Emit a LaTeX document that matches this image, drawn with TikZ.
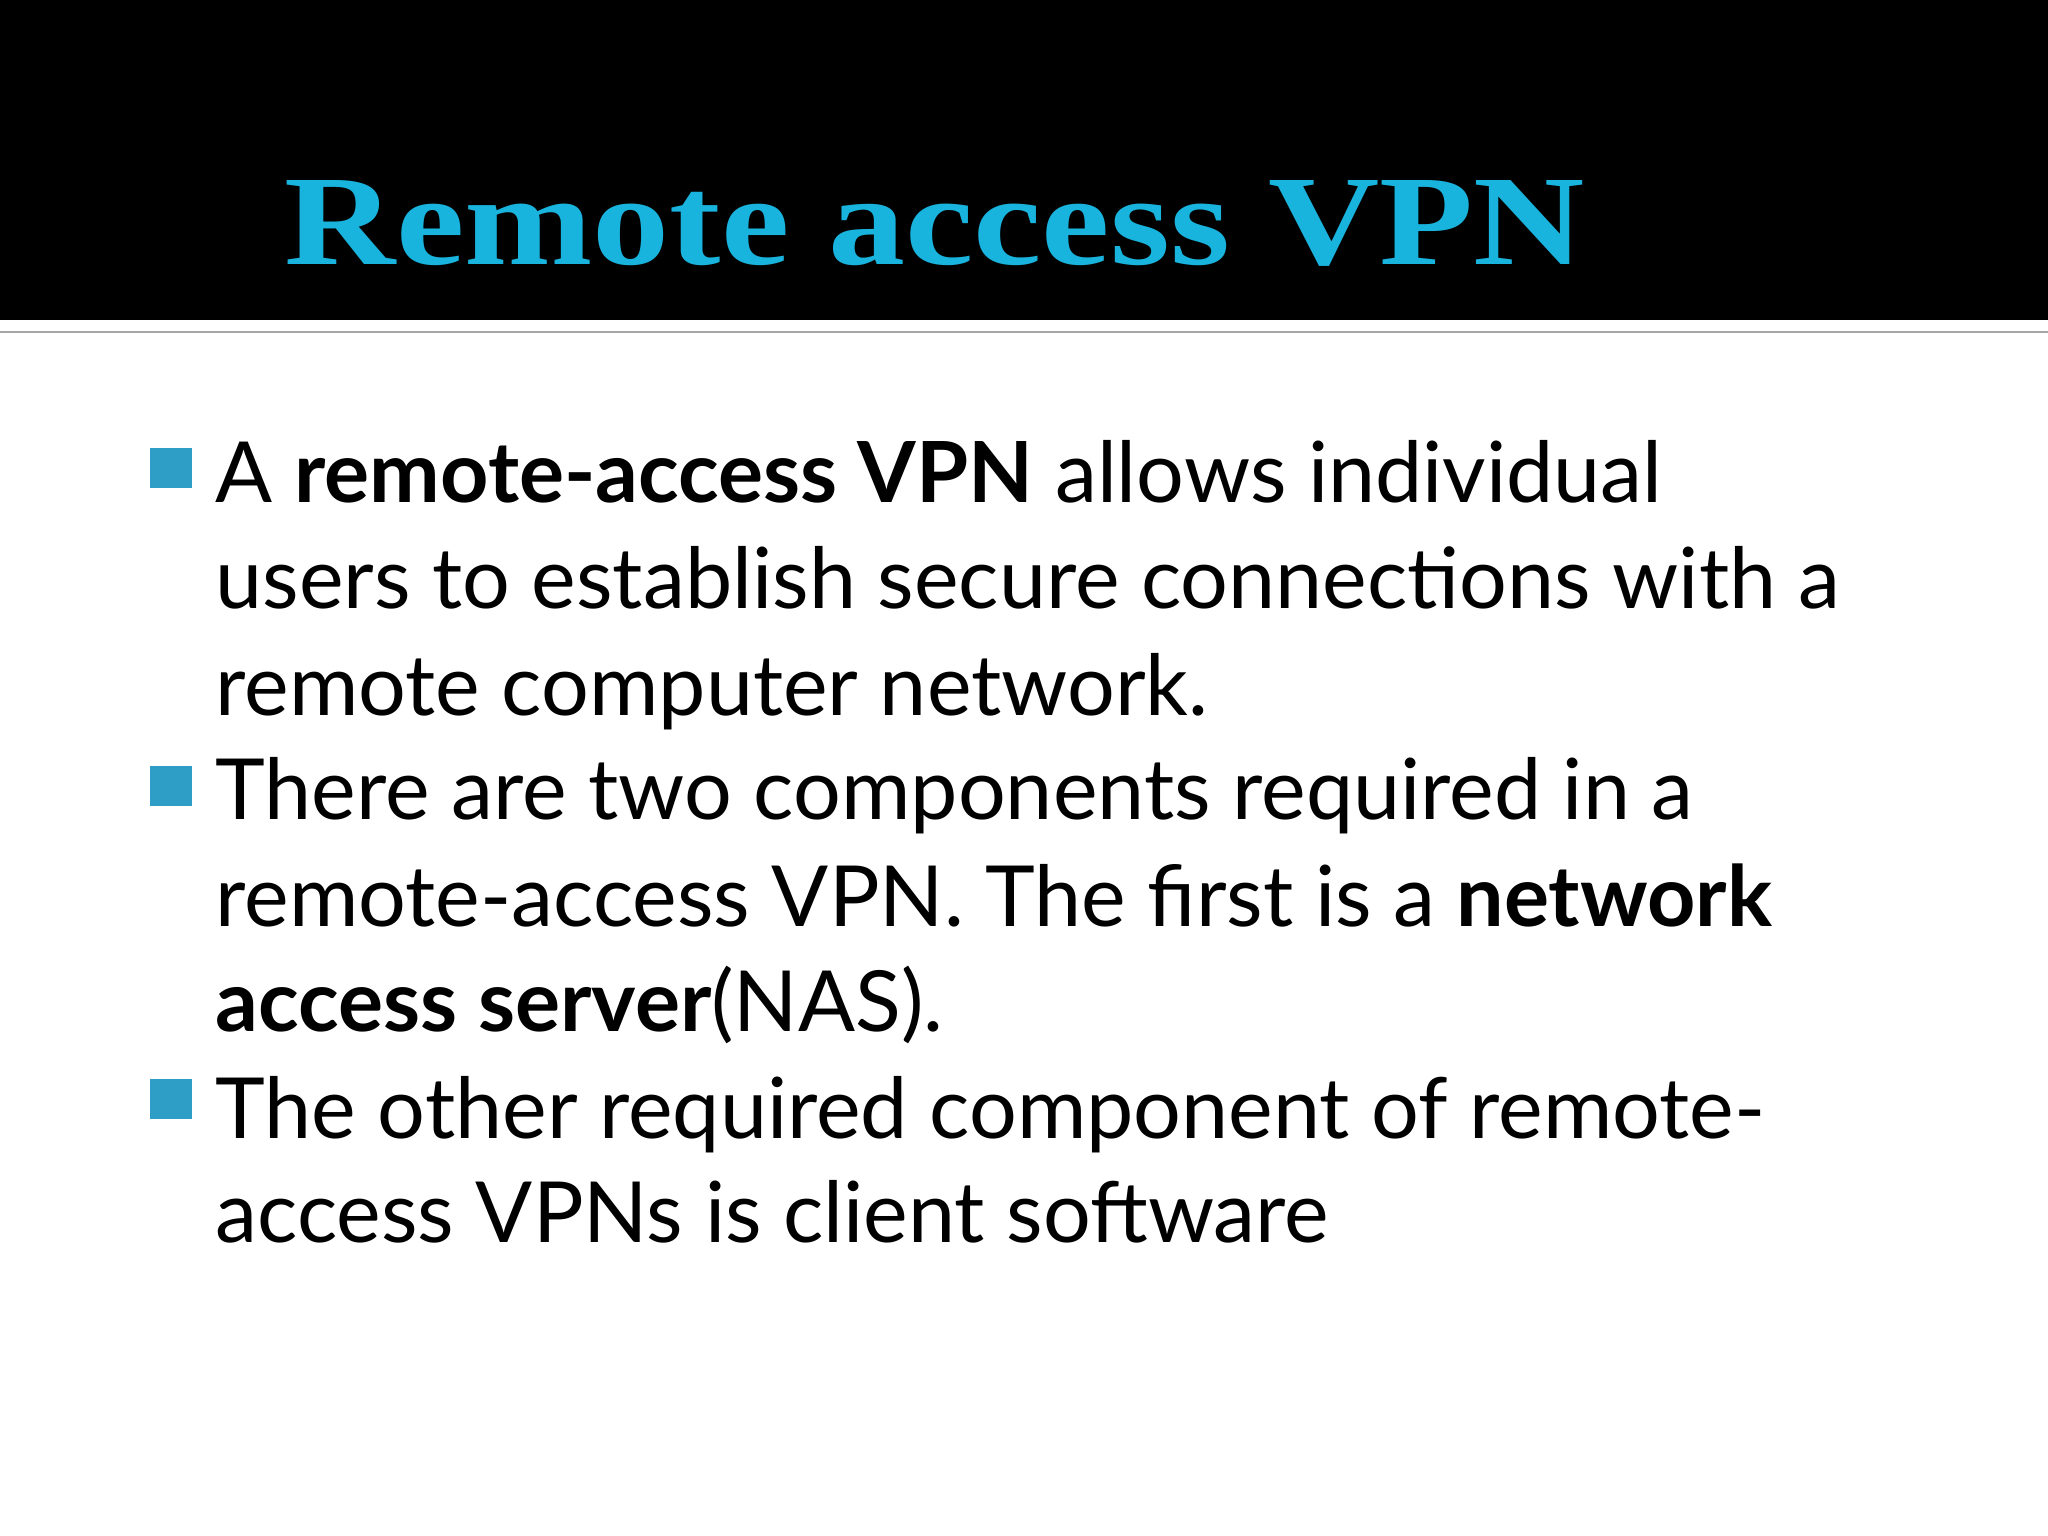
\documentclass[tikz,border=0pt]{standalone}
\usepackage{fontspec}
\setmainfont{Lato}
\newfontfamily\titlefont{Liberation Serif}
\definecolor{titlecyan}{HTML}{18B4DE}
\definecolor{bulletblue}{HTML}{2E9EC6}
\begin{document}
\begin{tikzpicture}[x=1cm,y=1cm,
  body/.style={anchor=base west,inner sep=0pt,font=\fontsize{24}{28}\selectfont},
  bsq/.style={fill=bulletblue,draw=none}]
\useasboundingbox (0,0) rectangle (20.48,15.36);
\fill[black] (0,15.36) rectangle (20.48,12.16);
\draw[gray!70,line width=0.8pt] (0,12.04) -- (20.48,12.04);
\node[anchor=base,inner sep=0pt,text=titlecyan] (title) at (9.35,12.71)
  {\resizebox{13cm}{0.84cm}{\titlefont\bfseries Remote access VPN}};
\fill[bsq] (1.50,10.48) rectangle (1.92,10.88);
\fill[bsq] (1.50,7.30) rectangle (1.92,7.70);
\fill[bsq] (1.50,4.17) rectangle (1.92,4.57);
\node[body] (l1) at (2.15,10.33) {A \textbf{remote-access VPN} allows individual};
\node[body] (l2) at (2.15,9.27) {users to establish secure connections with a};
\node[body] (l3) at (2.15,8.20) {remote computer network.};
\node[body] (l4) at (2.15,7.16) {There are two components required in a};
\node[body] (l5) at (2.15,6.09) {remote-access VPN. The first is a \textbf{network}};
\node[body] (l6) at (2.15,5.04) {\textbf{access server}(NAS).};
\node[body] (l7) at (2.15,3.97) {The other required component of remote-};
\node[body] (l8) at (2.15,2.93) {access VPNs is client software};
\end{tikzpicture}
\end{document}
